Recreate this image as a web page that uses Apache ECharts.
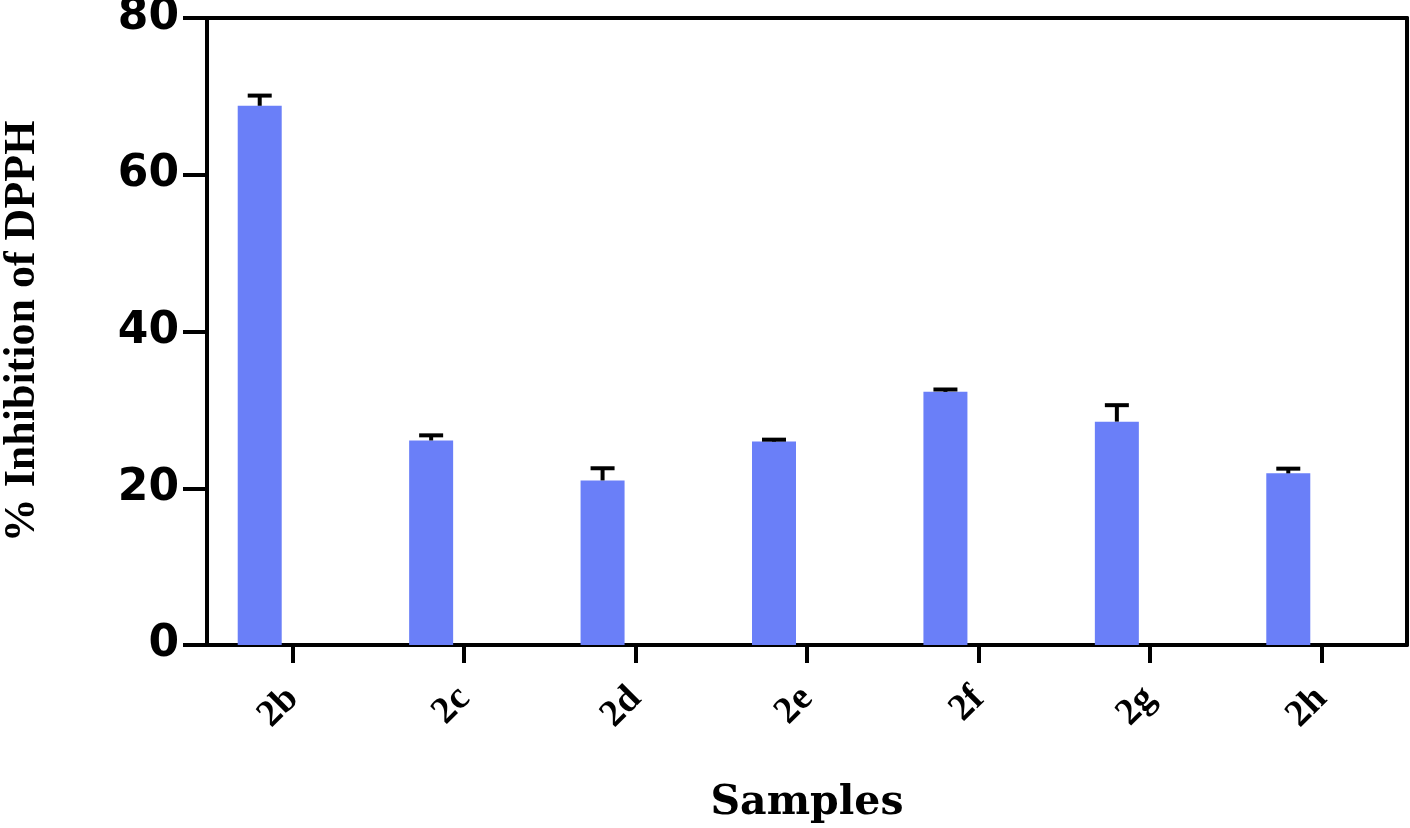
<!DOCTYPE html>
<html>
<head>
<meta charset="utf-8">
<script src="https://cdn.jsdelivr.net/npm/echarts@6/dist/echarts.min.js"></script>
<style>
  html, body { margin: 0; padding: 0; background: #fff; }
  #chart { width: 1410px; height: 828px; }
</style>
</head>
<body>
<div id="chart"></div>
<script>
// data
const samples = ['2b', '2c', '2d', '2e', '2f', '2g', '2h'];
const inhibition = [68.8, 26.1, 21.0, 25.95, 32.3, 28.5, 21.9];
const sd = [1.3, 0.65, 1.55, 0.25, 0.3, 2.1, 0.6];
const yMin = 0, yMax = 80, yStep = 20;

const barW = 44;
const barGap = 0.5;
// bar sits left of the tick (second slot in the group is empty)
const barShift = -(barW + barW * barGap) / 2;

const chart = echarts.init(document.getElementById('chart'));

const black = { color: '#000', width: 4 };

chart.setOption({
  animation: false,
  grid: { left: 207, right: 3, top: 18, bottom: 183, containLabel: false, outerBoundsMode: 'none' },
  xAxis: [{
    type: 'category',
    data: samples,
    axisLine: { onZero: false, lineStyle: black },
    axisTick: { show: true, alignWithLabel: true, length: 18, lineStyle: black },
    axisLabel: {
      rotate: 45, margin: 48, color: '#000',
      fontFamily: 'Liberation Serif', fontWeight: 'bold', fontSize: 38
    },
    name: 'Samples',
    nameLocation: 'middle',
    nameGap: 138,
    nameTextStyle: { color: '#000', fontFamily: 'DejaVu Serif', fontWeight: 'bold', fontSize: 41 }
  }, {
    type: 'category',
    position: 'top',
    data: samples,
    axisLine: { show: true, onZero: false, lineStyle: black },
    axisTick: { show: false },
    axisLabel: { show: false }
  }],
  yAxis: [{
    type: 'value',
    min: yMin, max: yMax, interval: yStep,
    axisLine: { show: true, onZero: false, lineStyle: black },
    axisTick: { show: true, length: 24, lineStyle: black },
    splitLine: { show: false },
    axisLabel: {
      margin: 28, color: '#000', padding: [6, 0, 0, 0],
      fontFamily: 'DejaVu Sans', fontWeight: 'bold', fontSize: 44
    },
    name: '% Inhibition of DPPH',
    nameLocation: 'middle',
    nameGap: 162,
    nameRotate: 90,
    nameTextStyle: { color: '#000', fontFamily: 'Liberation Serif', fontWeight: 'bold', fontSize: 44 }
  }, {
    type: 'value',
    position: 'right',
    min: yMin, max: yMax, interval: yStep,
    axisLine: { show: true, onZero: false, lineStyle: black },
    axisTick: { show: false },
    axisLabel: { show: false },
    splitLine: { show: false }
  }],
  series: [{
    type: 'bar',
    data: inhibition,
    barWidth: barW,
    barGap: (barGap * 100) + '%',
    itemStyle: { color: '#6a7ff8' }
  }, {
    type: 'bar',
    data: [],
    barWidth: barW
  }, {
    type: 'custom',
    z: 5,
    data: samples.map((s, i) => [i, inhibition[i], sd[i]]),
    encode: { x: 0, y: 1 },
    renderItem: function (params, api) {
      const i = api.value(0);
      const base = api.coord([i, api.value(1)]);
      const top = api.coord([i, api.value(1) + api.value(2)]);
      const x = base[0] + barShift;
      const cap = 12;
      return {
        type: 'group',
        children: [
          { type: 'line', shape: { x1: x, y1: base[1], x2: x, y2: top[1] }, style: { stroke: '#000', lineWidth: 4 } },
          { type: 'line', shape: { x1: x - cap, y1: top[1], x2: x + cap, y2: top[1] }, style: { stroke: '#000', lineWidth: 4 } }
        ]
      };
    }
  }]
});
</script>
</body>
</html>
